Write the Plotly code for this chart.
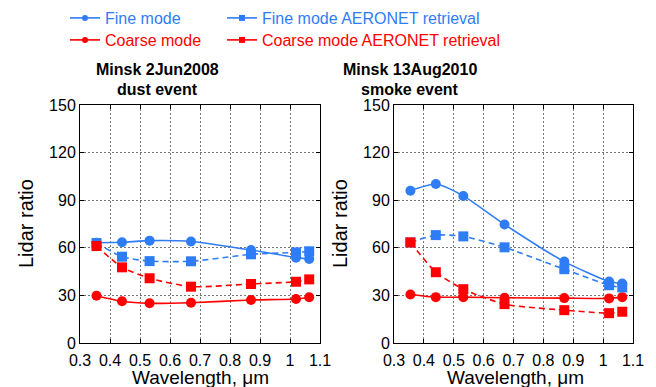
import plotly.graph_objects as go

# Wavelengths (µm)
wavelength = [0.355, 0.44, 0.532, 0.67, 0.87, 1.02, 1.064]

# Minsk 2 Jun 2008, dust event
dust_fine = [63.2, 63.5, 64.5, 64.0, 58.6, 53.8, 53.0]
dust_fine_aeronet = [63.0, 54.4, 51.6, 51.5, 55.9, 57.1, 57.8]
dust_coarse = [29.8, 26.3, 25.0, 25.4, 27.1, 27.7, 28.8]
dust_coarse_aeronet = [61.1, 47.7, 40.8, 35.5, 37.2, 38.6, 40.1]

# Minsk 13 Aug 2010, smoke event
smoke_fine = [96.0, 100.2, 92.7, 74.7, 51.3, 38.7, 37.5]
smoke_fine_aeronet = [63.4, 68.0, 67.2, 60.3, 46.5, 36.4, 35.0]
smoke_coarse = [30.6, 28.9, 28.9, 28.5, 28.3, 28.1, 28.9]
smoke_coarse_aeronet = [63.4, 44.6, 33.9, 24.5, 20.7, 18.8, 19.7]

x_ticks = [0.3, 0.4, 0.5, 0.6, 0.7, 0.8, 0.9, 1.0, 1.1]
y_ticks = [0, 30, 60, 90, 120, 150]

BLUE = "#2f7df6"
RED = "#ff0000"
FONT = "Liberation Sans, Arial, sans-serif"

W, H = 656, 387

# name, colour, marker, line dash, legend id, legend left (px), row centre (px)
series_style = [
    ("Fine mode", BLUE, "circle", "solid", "legend", 65, 18),
    ("Coarse mode", RED, "circle", "solid", "legend2", 65, 40),
    ("Fine mode AERONET retrieval", BLUE, "square", "dash", "legend3", 222, 18),
    ("Coarse mode AERONET retrieval", RED, "square", "dash", "legend4", 222, 40),
]

panels = [
    ("x", "y", [dust_fine, dust_coarse, dust_fine_aeronet, dust_coarse_aeronet]),
    ("x2", "y2", [smoke_fine, smoke_coarse, smoke_fine_aeronet, smoke_coarse_aeronet]),
]

fig = go.Figure()

for xa, ya, values in panels:
    for (name, color, symbol, dash, *_), vals in zip(series_style, values):
        fig.add_trace(go.Scatter(
            x=wavelength, y=vals, xaxis=xa, yaxis=ya,
            mode="lines+markers", showlegend=False,
            line=dict(color=color, width=1.6, shape="spline", smoothing=0.6,
                      dash="6px,4px" if dash == "dash" else "solid"),
            marker=dict(color=color, symbol=symbol, size=10),
        ))

# Legend entries (small symbols, coloured labels)
legend_layout = {}
for name, color, symbol, dash, leg, lx, ly in series_style:
    fig.add_trace(go.Scatter(
        x=[None], y=[None], mode="lines+markers", name=name,
        legend=leg, line=dict(color=color, width=1.6),
        marker=dict(color=color, symbol=symbol, size=6),
    ))
    legend_layout[leg] = dict(
        x=lx / W, y=1 - ly / H, xanchor="left", yanchor="middle", orientation="v",
        bgcolor="rgba(0,0,0,0)", borderwidth=0, itemwidth=30,
        font=dict(family=FONT, size=16, color=color),
    )

axis_common = dict(
    showline=True, linecolor="black", linewidth=1, mirror="allticks",
    ticks="inside", ticklen=4, tickcolor="black",
    showgrid=True, gridcolor="#777777", griddash="2px,2px", gridwidth=1,
    zeroline=False, automargin=False,
    tickfont=dict(family=FONT, size=16, color="black"),
)

ytop = 1 - 105 / H
ybot = 1 - 343 / H

fig.update_layout(
    width=W, height=H, autosize=False,
    margin=dict(l=0, r=0, t=0, b=0),
    paper_bgcolor="white", plot_bgcolor="white",
    font=dict(family=FONT, size=16, color="black"),
    xaxis=dict(domain=[80 / W, 320 / W], range=[0.3, 1.1], tickvals=x_ticks, anchor="y",
               ticklabelstandoff=3, **axis_common),
    yaxis=dict(domain=[ybot, ytop], range=[0, 150], tickvals=y_ticks, anchor="x", **axis_common),
    xaxis2=dict(domain=[394 / W, 633 / W], range=[0.3, 1.1], tickvals=x_ticks, anchor="y2",
                ticklabelstandoff=3, **axis_common),
    yaxis2=dict(domain=[ybot, ytop], range=[0, 150], tickvals=y_ticks, anchor="x2", **axis_common),
    **legend_layout,
)

titles = [
    (157, "Minsk 2Jun2008", "dust event"),
    (410, "Minsk 13Aug2010", "smoke event"),
]
for xc, line1, line2 in titles:
    for yc, txt in ((70, line1), (90, line2)):
        fig.add_annotation(text=f"<b>{txt}</b>", x=xc / W, y=1 - yc / H, xref="paper", yref="paper",
                           xanchor="center", yanchor="middle", showarrow=False,
                           font=dict(family=FONT, size=16, color="black"))

for xc in (26, 340):
    fig.add_annotation(text="Lidar ratio", x=xc / W, y=1 - 224 / H, xref="paper", yref="paper",
                       xanchor="center", yanchor="middle", showarrow=False, textangle=-90,
                       font=dict(family=FONT, size=20, color="black"))
for xc in (200, 515):
    fig.add_annotation(text="Wavelength, \u03bcm", x=xc / W, y=0, xref="paper", yref="paper",
                       xanchor="center", yanchor="bottom", yshift=-3, showarrow=False,
                       font=dict(family=FONT, size=19, color="black"))

fig.write_html("out.html")
